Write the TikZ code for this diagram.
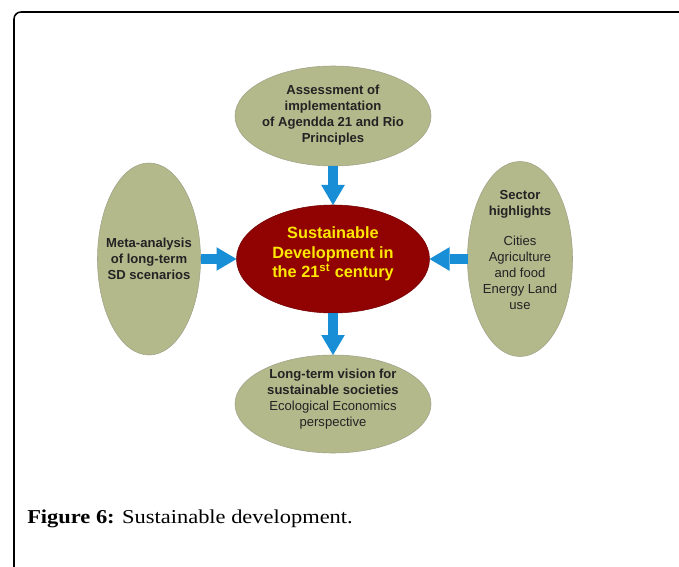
\documentclass[tikz,border=0pt]{standalone}
\usepackage{fontspec}
\setmainfont{Liberation Serif}
\setsansfont{Liberation Sans}
\newfontfamily\capfont[FakeStretch=1.14]{Liberation Serif}
\usepackage{xcolor}
\usetikzlibrary{shapes.geometric}
\usetikzlibrary{arrows.meta}
\definecolor{sagefill}{RGB}{180,185,140}
\definecolor{sageedge}{RGB}{160,163,135}
\definecolor{hubred}{RGB}{145,3,3}
\definecolor{hubyellow}{RGB}{255,232,0}
\definecolor{flowblue}{RGB}{24,142,214}
\definecolor{inktext}{RGB}{35,35,35}

\begin{document}
\begin{tikzpicture}[x=0.25mm, y=-0.25mm,
	topic/.style={ellipse, fill=sagefill, draw=sageedge, line width=0.4pt, inner sep=0pt, outer sep=0pt},
	hub/.style={ellipse, fill=hubred, draw=hubred!80!black, line width=0.4pt, inner sep=0pt, outer sep=0pt},
	blurb/.style={align=center, text=inktext, font=\sffamily\fontsize{9.3}{11.4}\selectfont, inner sep=0pt},
	hubtext/.style={align=center, text=hubyellow, font=\sffamily\bfseries\fontsize{11.6}{13.9}\selectfont, inner sep=0pt},
	bigarrow/.style={draw=flowblue, line width=2.5mm, -{Triangle[width=5.9mm, length=5mm, line width=0pt, fill=flowblue]}}]
	\useasboundingbox (0,0) rectangle (679,567);
	\draw[line width=1.1pt, rounded corners=1.75mm] (14,567) -- (14,12) -- (679,12);
	
	\node[hub, minimum width=48.25mm, minimum height=27mm,
		label={[hubtext, yshift=1.25mm]center:{Sustainable\\Development in\\the 21\textsuperscript{st} century}}] (sd) at (333,259) {};
	
	\node[topic, minimum width=49mm, minimum height=25mm,
		label={[blurb, yshift=0.25mm]center:{\textbf{Assessment of}\\\textbf{implementation}\\\textbf{of Agendda 21 and Rio}\\\textbf{Principles}}}] (assess) at (333,116) {};
	
	\node[topic, minimum width=25.75mm, minimum height=48mm,
		label={[blurb]center:{\textbf{Meta-analysis}\\\textbf{of long-term}\\\textbf{SD scenarios}}}] (meta) at (149,259) {};
	
	\node[topic, minimum width=26.25mm, minimum height=48.75mm,
		label={[blurb, yshift=2.25mm]center:{\textbf{Sector}\\\textbf{highlights}\\[3.5mm]Cities\\Agriculture\\and food\\Energy Land\\use}}] (sector) at (520,259) {};
	
	\node[topic, minimum width=49mm, minimum height=24.5mm,
		label={[blurb, yshift=1.25mm]center:{\textbf{Long-term vision for}\\\textbf{sustainable societies}\\Ecological Economics\\perspective}}] (vision) at (333,404) {};
	
	\draw[bigarrow] (assess) -- (sd);
	\draw[bigarrow] (meta) -- (sd);
	\draw[bigarrow] (sector) -- (sd);
	\draw[bigarrow] (sd) -- (vision);
	
	\node[anchor=base west, inner sep=0pt, font=\capfont\fontsize{14}{16}\selectfont] (caption) at (27,523) {\textbf{Figure 6:} Sustainable development.};
\end{tikzpicture}
\end{document}
